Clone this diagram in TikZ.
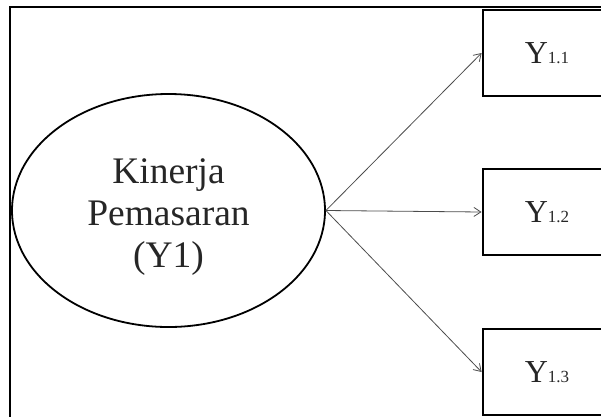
\documentclass[tikz,border=0pt]{standalone}
\usepackage{fontspec}
\setmainfont{Liberation Serif}
\usetikzlibrary{
  shapes.geometric,
  arrows.meta,
  positioning
}

\newcommand{\ind}[1]{Y{\fontsize{17}{17}\selectfont #1}}

\begin{document}
\begin{tikzpicture}[x=1pt, y=-1pt,
  latent/.style={ellipse, draw, line width=1.8pt, minimum width=313pt, minimum height=233pt, inner sep=0pt},
  latentname/.style={align=center, inner sep=0pt, font=\fontsize{37.5}{42}\selectfont, text=black!85},
  indicator/.style={rectangle, draw, line width=2.8pt, minimum width=128pt, minimum height=86pt, font=\fontsize{32}{32}\selectfont, text=black!85},
  link/.style={-{Straight Barb[length=7pt,width=9pt]}, line width=0.8pt, black!70}
]
  \useasboundingbox (0,0) rectangle (601,416);
  \clip (0,0) rectangle (601,416);
  \draw[line width=1.2pt] (10,7) rectangle (640,440);

  \node[latent] (kp) at (168.5,210.5) {};
  \node[latentname] (kpname) at (168.5,217.5) {Kinerja\\Pemasaran\\(Y1)};

  \node[indicator] (y11) at (547,53) {\ind{1.1}};
  \node[indicator] (y12) at (547,212) {\ind{1.2}};
  \node[indicator] (y13) at (547,372) {\ind{1.3}};

  \draw[link] (kp.east) -- (y11.west);
  \draw[link] (kp.east) -- (y12.west);
  \draw[link] (kp.east) -- (y13.west);
\end{tikzpicture}
\end{document}
